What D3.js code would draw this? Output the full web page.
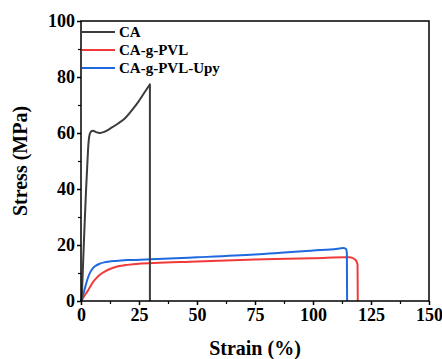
<!DOCTYPE html>
<html><head><meta charset="utf-8">
<script src="https://cdn.jsdelivr.net/npm/d3@7"></script>
<style>
body{margin:0;background:#fff;}
text{font-family:"Times New Roman","Liberation Serif",serif !important;font-weight:bold;fill:#000;}
</style></head>
<body><svg id="c" width="442" height="359"></svg>
<script>
const seriesNames = ["CA", "CA-g-PVL", "CA-g-PVL-Upy"];
const seriesColors = ["#3c3c3c", "#f03a3a", "#1f69e0"];
const caStrain = [0.3,1.2,2.2,2.8,3.2,3.6,4.2,5.2,6.5,8.2,10,13,16,19,21,24,27,29.7,29.7];
const caStress = [0,20,40,50,56,59,60.4,60.8,60.3,60.0,60.4,61.8,63.4,65.3,67.2,70.3,74.0,77.4,0];
const pvlStrain = [0,1,2,3,4,5,6,8,10,13,16,20,25,50,75,100,115,117,118.5,119.2,119.3];
const pvlStress = [0,1.2,2.5,3.7,5.2,6.5,7.6,9.3,10.4,11.6,12.4,12.9,13.3,14.1,14.8,15.3,15.6,15.4,14.5,13,0];
const upyStrain = [0,1,2,3,4,5,6,8,10,15,20,30,50,75,100,110,113,114.2,114.6,114.7];
const upyStress = [0,2.5,5.5,8.3,10.3,11.6,12.4,13.3,13.8,14.3,14.6,14.9,15.6,16.6,18.0,18.6,18.9,18.6,17,0];
const xTicks = [0,25,50,75,100,125,150];
const xMinor = [12.5,37.5,62.5,87.5,112.5,137.5];
const yTicks = [0,20,40,60,80,100];
const yMinor = [10,30,50,70,90];

const svg = d3.select("#c");
const L=81, R=429, T=21, B=301;
const x = d3.scaleLinear().domain([0,150]).range([L,R]);
const y = d3.scaleLinear().domain([0,100]).range([B,T]);

const series = [
  {name:seriesNames[0], color:seriesColors[0], xs:caStrain, ys:caStress},
  {name:seriesNames[1], color:seriesColors[1], xs:pvlStrain, ys:pvlStress},
  {name:seriesNames[2], color:seriesColors[2], xs:upyStrain, ys:upyStress}
];
const smooth = d3.line().x(d=>x(d[0])).y(d=>y(d[1])).curve(d3.curveCatmullRom.alpha(0.5));
const straight = d3.line().x(d=>x(d[0])).y(d=>y(d[1]));

[1,2,0].forEach(i=>{
  const s=series[i];
  const pts = s.xs.map((v,k)=>[v,s.ys[k]]);
  const n = pts.length;
  svg.append("path").attr("d", smooth(pts.slice(0,n-1)) + straight(pts.slice(n-2)).replace(/^M/,"L"))
    .attr("fill","none").attr("stroke",s.color).attr("stroke-width",2).attr("stroke-linejoin","round");
});

svg.append("rect").attr("x",L).attr("y",T).attr("width",R-L).attr("height",B-T)
  .attr("fill","none").attr("stroke","#000").attr("stroke-width",1.5);

const xAxis = d3.axisBottom(x).tickValues(xTicks).tickSize(4).tickPadding(3).tickFormat(d3.format("d"));
const gx = svg.append("g").attr("transform",`translate(0,${B})`).call(xAxis);
gx.select(".domain").remove();
gx.selectAll("line").attr("stroke","#000").attr("stroke-width",1.5);
gx.selectAll("text").style("font-size","18px").attr("fill","#000");
const gxm = svg.append("g").attr("transform",`translate(0,${B})`).call(d3.axisBottom(x).tickValues(xMinor).tickSize(3).tickFormat(""));
gxm.select(".domain").remove();
gxm.selectAll("line").attr("stroke","#000").attr("stroke-width",1.2);

const yAxis = d3.axisLeft(y).tickValues(yTicks).tickSize(4).tickPadding(2);
const gy = svg.append("g").attr("transform",`translate(${L},0)`).call(yAxis);
gy.select(".domain").remove();
gy.selectAll("line").attr("stroke","#000").attr("stroke-width",1.5);
gy.selectAll("text").style("font-size","18px").attr("fill","#000");
const gym = svg.append("g").attr("transform",`translate(${L},0)`).call(d3.axisLeft(y).tickValues(yMinor).tickSize(3).tickFormat(""));
gym.select(".domain").remove();
gym.selectAll("line").attr("stroke","#000").attr("stroke-width",1.2);

svg.append("text").attr("x",255).attr("y",355).attr("text-anchor","middle").style("font-size","20px").text("Strain (%)");
svg.append("text").attr("transform","translate(27,161) rotate(-90)").attr("text-anchor","middle").style("font-size","20px").text("Stress (MPa)");

const lg = svg.append("g");
series.forEach((s,i)=>{
  const yy = 32 + i*18;
  lg.append("line").attr("x1",82).attr("x2",115).attr("y1",yy).attr("y2",yy).attr("stroke",s.color).attr("stroke-width",2);
  lg.append("text").attr("x",119).attr("y",yy).attr("dy","0.35em").style("font-size","15px").text(s.name);
});
</script></body></html>
